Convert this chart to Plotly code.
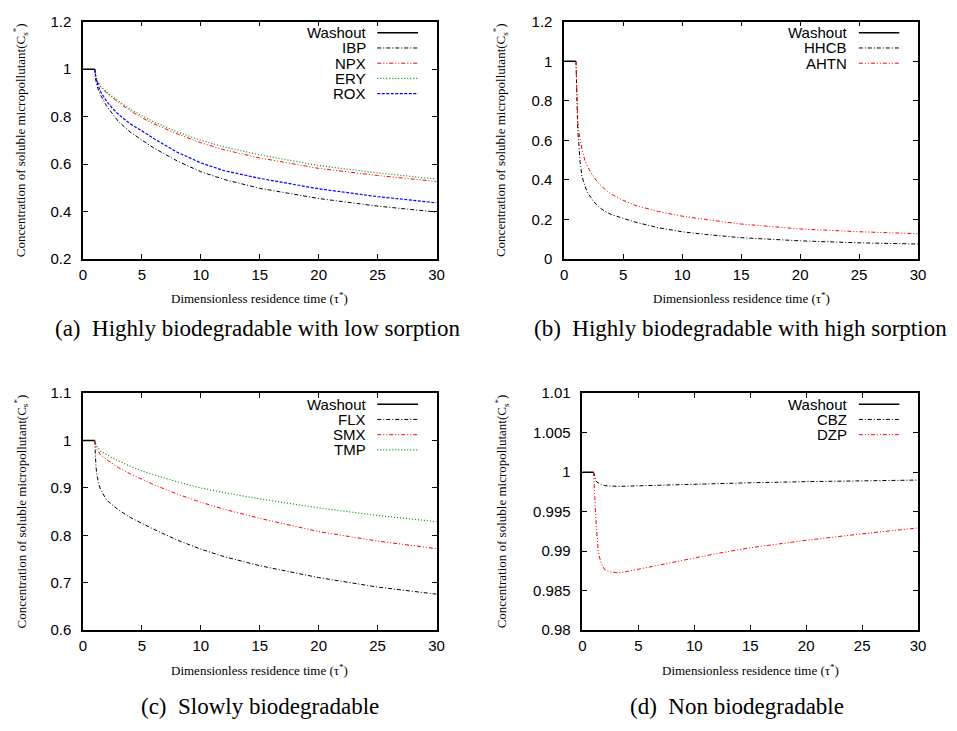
import plotly.graph_objects as go

# ---------------- data ----------------
washout_t = [0, 1]
washout_c = [1, 1]

# (a) Highly biodegradable with low sorption
a_t = [1, 1.1, 1.25, 1.5, 2, 2.5, 3, 4, 5, 6, 8, 10, 12, 15, 20, 25, 30]
ibp = [1, 0.95, 0.92, 0.89, 0.845, 0.81, 0.78, 0.735, 0.70, 0.668, 0.613, 0.568, 0.535, 0.498, 0.455, 0.423, 0.398]
npx = [1, 0.965, 0.945, 0.925, 0.90, 0.88, 0.86, 0.825, 0.795, 0.77, 0.727, 0.69, 0.66, 0.626, 0.582, 0.552, 0.527]
ery = [1, 0.968, 0.948, 0.928, 0.903, 0.884, 0.866, 0.832, 0.803, 0.778, 0.736, 0.70, 0.672, 0.639, 0.594, 0.563, 0.537]
rox = [1, 0.96, 0.935, 0.905, 0.865, 0.835, 0.81, 0.77, 0.74, 0.708, 0.650, 0.605, 0.572, 0.540, 0.496, 0.463, 0.437]

# (b) Highly biodegradable with high sorption
b_t = [1, 1.05, 1.1, 1.15, 1.25, 1.35, 1.5, 1.75, 2, 2.5, 3, 3.5, 4, 5, 6, 8, 10, 12, 15, 20, 25, 30]
hhcb = [1, 0.85, 0.72, 0.65, 0.575, 0.49, 0.42, 0.37, 0.335, 0.29, 0.26, 0.24, 0.225, 0.205, 0.187, 0.158, 0.138, 0.124, 0.108, 0.092, 0.082, 0.076]
ahtn = [1, 0.88, 0.78, 0.70, 0.64, 0.595, 0.555, 0.50, 0.465, 0.415, 0.378, 0.35, 0.328, 0.297, 0.272, 0.24, 0.217, 0.2, 0.177, 0.152, 0.138, 0.128]

# (c) Slowly biodegradable
c_t = [1, 1.05, 1.1, 1.2, 1.3, 1.5, 2, 2.5, 3, 4, 5, 6, 8, 10, 12, 15, 20, 25, 30]
flx = [1, 0.97, 0.945, 0.925, 0.912, 0.896, 0.875, 0.864, 0.854, 0.838, 0.825, 0.813, 0.79, 0.771, 0.755, 0.736, 0.711, 0.691, 0.676]
smx = [1, 0.99, 0.985, 0.981, 0.978, 0.970, 0.960, 0.951, 0.943, 0.930, 0.918, 0.907, 0.887, 0.870, 0.855, 0.836, 0.808, 0.788, 0.772]
tmp = [1, 0.993, 0.99, 0.987, 0.984, 0.978, 0.970, 0.963, 0.957, 0.946, 0.936, 0.928, 0.913, 0.90, 0.89, 0.877, 0.858, 0.842, 0.829]

# (d) Non biodegradable
d_t = [1, 1.05, 1.1, 1.15, 1.2, 1.3, 1.4, 1.5, 1.7, 2, 2.5, 3, 3.5, 4, 5, 6, 8, 10, 12, 15, 20, 25, 30]
cbz = [1, 0.9997, 0.9994, 0.9991, 0.9989, 0.99875, 0.99865, 0.9986, 0.99845, 0.99829, 0.99822, 0.99821, 0.99821, 0.99823, 0.99828, 0.99832, 0.99841, 0.9985, 0.99856, 0.99866, 0.9988, 0.99891, 0.999]
dzp = [1, 0.9990, 0.9975, 0.9958, 0.9942, 0.9918, 0.9903, 0.9894, 0.9884, 0.98765, 0.98738, 0.98729, 0.9873, 0.98743, 0.98772, 0.98803, 0.98863, 0.98919, 0.9897, 0.99043, 0.99138, 0.9922, 0.99294]

x_ticks = [0, 5, 10, 15, 20, 25, 30]
a_yticks = [0.2, 0.4, 0.6, 0.8, 1.0, 1.2]
a_ylabels = ["0.2", "0.4", "0.6", "0.8", "1", "1.2"]
b_yticks = [0, 0.2, 0.4, 0.6, 0.8, 1.0, 1.2]
b_ylabels = ["0", "0.2", "0.4", "0.6", "0.8", "1", "1.2"]
c_yticks = [0.6, 0.7, 0.8, 0.9, 1.0, 1.1]
c_ylabels = ["0.6", "0.7", "0.8", "0.9", "1", "1.1"]
d_yticks = [0.98, 0.985, 0.99, 0.995, 1.0, 1.005, 1.01]
d_ylabels = ["0.98", "0.985", "0.99", "0.995", "1", "1.005", "1.01"]

captions = ["(a)\u00a0 Highly biodegradable with low sorption",
            "(b)\u00a0 Highly biodegradable with high sorption",
            "(c)\u00a0 Slowly biodegradable",
            "(d)\u00a0 Non biodegradable"]

# ---------------- styles ----------------
W, H = 957, 731
BLACK = "#000000"
RED = "#ff0000"
GREEN = "#0b8a0b"
BLUE = "#0000ff"
DASHDOT = "4px,2px,1px,2px"
DASHDOTDOT = "4px,2px,1px,2px,1px,2px"
DOT = "1px,2px"
DASH = "3px,1.5px"

panels = [
    dict(px=(80, 438), py=(13, 256)),
    dict(px=(567.3, 925.7), py=(13, 256)),
    dict(px=(80, 438), py=(393.3, 636)),
    dict(px=(585.7, 925.7), py=(393.3, 636)),
]

series = [
    [("Washout", washout_t, washout_c, BLACK, "solid", 1.5),
     ("IBP", a_t, ibp, BLACK, DASHDOT, 1),
     ("NPX", a_t, npx, RED, DASHDOTDOT, 1),
     ("ERY", a_t, ery, GREEN, DOT, 1.2),
     ("ROX", a_t, rox, BLUE, DASH, 1.2)],
    [("Washout", washout_t, washout_c, BLACK, "solid", 1.5),
     ("HHCB", b_t, hhcb, BLACK, DASHDOT, 1),
     ("AHTN", b_t, ahtn, RED, DASHDOTDOT, 1)],
    [("Washout", washout_t, washout_c, BLACK, "solid", 1.5),
     ("FLX", c_t, flx, BLACK, DASHDOT, 1),
     ("SMX", c_t, smx, RED, DASHDOTDOT, 1),
     ("TMP", c_t, tmp, GREEN, DOT, 1.2)],
    [("Washout", washout_t, washout_c, BLACK, "solid", 1.5),
     ("CBZ", d_t, cbz, BLACK, DASHDOT, 1),
     ("DZP", d_t, dzp, RED, DASHDOTDOT, 1)],
]

yt = [(a_yticks, a_ylabels, [0.2, 1.2]),
      (b_yticks, b_ylabels, [0, 1.2]),
      (c_yticks, c_ylabels, [0.6, 1.1]),
      (d_yticks, d_ylabels, [0.98, 1.01])]

cap_pos = [(257, 327), (746, 327), (259, 714), (742, 714)]
ytitle_x = [17, 503, 17, 504]
xtitle_y = [296, 296, 676.7, 676.7]

fig = go.Figure()
layout = dict(width=W, height=H, margin=dict(l=0, r=0, t=0, b=0),
              paper_bgcolor="white", plot_bgcolor="white", showlegend=False,
              annotations=[], shapes=[])

tickfont = dict(family="Liberation Sans, Arial, sans-serif", size=15, color="black")
serif = "Liberation Serif, Times New Roman, serif"

for i, p in enumerate(panels):
    k = "" if i == 0 else str(i + 1)
    xa, ya = "x" + k, "y" + k
    x0, x1 = p["px"]
    y0, y1 = p["py"]
    xdom = [x0 / W, x1 / W]
    ydom = [1 - y1 / H, 1 - y0 / H]
    common = dict(showline=True, linecolor="black", linewidth=1.5, mirror="ticks",
                  ticks="inside", ticklen=5, tickwidth=1, tickcolor="black",
                  showgrid=False, zeroline=False, tickfont=tickfont)
    layout["xaxis" + k] = dict(domain=xdom, anchor=ya, range=[0, 30],
                               tickmode="array", tickvals=x_ticks,
                               ticktext=[str(v) for v in x_ticks],
                               ticklabelstandoff=1, **common)
    tv, tl, rng = yt[i]
    layout["yaxis" + k] = dict(domain=ydom, anchor=xa, range=rng,
                               tickmode="array", tickvals=tv, ticktext=tl,
                               ticklabelstandoff=7, **common)

    for name, xs, ys, col, dash, w in series[i]:
        fig.add_trace(go.Scatter(x=xs, y=ys, mode="lines", name=name,
                                 line=dict(color=col, dash=dash, width=w),
                                 xaxis=xa, yaxis=ya))

    # gnuplot-style key (text right-aligned, sample to the right)
    pw = x1 - x0
    ph = y1 - y0
    if i == 3:
        text_right = 855.7 - 585.7
        l0, l1 = 865.7 - 585.7, 906.7 - 585.7
    elif i == 1:
        text_right = 855.7 - 567.3
        l0, l1 = 865.7 - 567.3, 906.7 - 567.3
    else:
        text_right = 368.3 - 80
        l0, l1 = 378 - 80, 419.3 - 80
    for r, (name, xs, ys, col, dash, w) in enumerate(series[i]):
        yrow = 1 - (11.3 + r * 15.6) / ph
        layout["annotations"].append(dict(
            xref=xa + " domain", yref=ya + " domain", x=text_right / pw, y=yrow,
            text=name, showarrow=False, xanchor="right", yanchor="middle",
            font=dict(family="Liberation Sans, Arial, sans-serif", size=15, color="black")))
        layout["shapes"].append(dict(
            type="line", xref=xa + " domain", yref=ya + " domain",
            x0=l0 / pw, x1=l1 / pw, y0=yrow, y1=yrow,
            line=dict(color=col, dash=dash, width=w)))

    # axis titles
    layout["annotations"].append(dict(
        xref="paper", yref="paper", x=ytitle_x[i] / W, y=1 - (y0 + y1) / 2 / H,
        text="Concentration of soluble micropollutant(C<sub>s</sub><sup>*</sup>)",
        textangle=-90, showarrow=False, xanchor="center", yanchor="middle",
        font=dict(family=serif, size=13, color="black")))
    layout["annotations"].append(dict(
        xref="paper", yref="paper", x=(x0 + x1) / 2 / W, y=1 - xtitle_y[i] / H,
        text="Dimensionless residence time (\u03c4<sup>*</sup>)",
        showarrow=False, xanchor="center", yanchor="middle",
        font=dict(family=serif, size=13, color="black")))
    # caption
    cx, cy = cap_pos[i]
    layout["annotations"].append(dict(
        xref="paper", yref="paper", x=cx / W, y=1 - cy / H, text=captions[i],
        showarrow=False, xanchor="center", yanchor="middle",
        font=dict(family=serif, size=23, color="black")))

fig.update_layout(**layout)
fig.write_html("out.html")
